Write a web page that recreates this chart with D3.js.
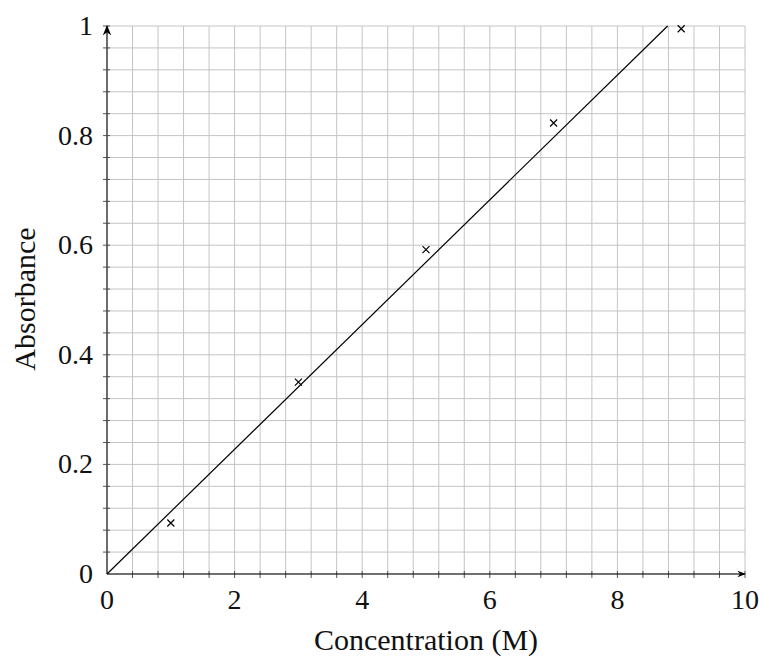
<!DOCTYPE html>
<html>
<head>
<meta charset="utf-8">
<script src="https://cdn.jsdelivr.net/npm/d3@7"></script>
<style>
  body { margin: 0; background: #fff; }
  text { font-family: "Liberation Serif", "DejaVu Serif", serif; fill: #111; }
</style>
</head>
<body>
<script>
// measured points
const concentration = [1, 3, 5, 7, 9]
const absorbance = [0.093, 0.35, 0.592, 0.823, 0.995]
const xTicks = [0, 2, 4, 6, 8, 10]
const yTicks = [0, 0.2, 0.4, 0.6, 0.8, 1]
const fitSlope = 0.1138

const width = 763, height = 659
const x = d3.scaleLinear().domain([0, 10]).range([107, 745])
const y = d3.scaleLinear().domain([0, 1]).range([574, 26])

const svg = d3.select('body').append('svg')
    .attr('width', width)
    .attr('height', height)

svg.append('defs').append('marker')
    .attr('id', 'arrow')
    .attr('viewBox', '0 0 10 10')
    .attr('refX', 9).attr('refY', 5)
    .attr('markerWidth', 7).attr('markerHeight', 7)
    .attr('orient', 'auto')
    .append('path')
    .attr('d', 'M0,1 L10,5 L0,9 L3,5 Z')
    .attr('fill', '#000')

// grid: every 0.4 on x, every 0.04 on y
const xGrid = d3.range(0, 10.001, 0.4)
const yGrid = d3.range(0, 1.0001, 0.04)

svg.append('g').selectAll('line')
    .data(xGrid)
    .enter().append('line')
    .attr('x1', d => x(d)).attr('x2', d => x(d))
    .attr('y1', y(0)).attr('y2', y(1))
    .attr('stroke', '#c4c4c4').attr('stroke-width', 1)

svg.append('g').selectAll('line')
    .data(yGrid)
    .enter().append('line')
    .attr('y1', d => y(d)).attr('y2', d => y(d))
    .attr('x1', x(0)).attr('x2', x(10))
    .attr('stroke', '#c4c4c4').attr('stroke-width', 1)

// small ticks on the axes
svg.append('g').selectAll('line')
    .data(xGrid.slice(1))
    .enter().append('line')
    .attr('x1', d => x(d)).attr('x2', d => x(d))
    .attr('y1', y(0) - 3).attr('y2', y(0) + 4)
    .attr('stroke', '#555').attr('stroke-width', 1)

svg.append('g').selectAll('line')
    .data(yGrid.slice(1))
    .enter().append('line')
    .attr('y1', d => y(d)).attr('y2', d => y(d))
    .attr('x1', x(0) - 4).attr('x2', x(0) + 3)
    .attr('stroke', '#555').attr('stroke-width', 1)

// axes with arrows
svg.append('line')
    .attr('x1', x(0)).attr('x2', x(10))
    .attr('y1', y(0)).attr('y2', y(0))
    .attr('stroke', '#000').attr('stroke-width', 1.2)
    .attr('marker-end', 'url(#arrow)')

svg.append('line')
    .attr('x1', x(0)).attr('x2', x(0))
    .attr('y1', y(0)).attr('y2', y(1))
    .attr('stroke', '#444').attr('stroke-width', 1.5)
    .attr('marker-end', 'url(#arrow)')

// tick labels
svg.append('g').selectAll('text')
    .data(xTicks)
    .enter().append('text')
    .attr('x', d => x(d))
    .attr('y', y(0) + 35)
    .attr('text-anchor', 'middle')
    .attr('font-size', 28)
    .text(d => d)

svg.append('g').selectAll('text')
    .data(yTicks)
    .enter().append('text')
    .attr('x', x(0) - 14)
    .attr('y', d => y(d) + 9)
    .attr('text-anchor', 'end')
    .attr('font-size', 28)
    .text(d => d)

// axis titles
svg.append('text')
    .attr('x', (x(0) + x(10)) / 2)
    .attr('y', 650)
    .attr('text-anchor', 'middle')
    .attr('font-size', 30)
    .text('Concentration (M)')

svg.append('text')
    .attr('transform', `translate(35,${(y(0) + y(1)) / 2 - 1}) rotate(-90)`)
    .attr('text-anchor', 'middle')
    .attr('font-size', 30)
    .text('Absorbance')

// fitted line, clipped at y = 1
const xEnd = Math.min(10, 1 / fitSlope)
svg.append('line')
    .attr('x1', x(0)).attr('y1', y(0))
    .attr('x2', x(xEnd)).attr('y2', y(fitSlope * xEnd))
    .attr('stroke', '#000').attr('stroke-width', 1.2)

// data markers (x shapes)
const s = 3.5
svg.append('g').selectAll('path')
    .data(concentration)
    .enter().append('path')
    .attr('d', (d, i) => {
        const cx = x(d), cy = y(absorbance[i])
        return `M${cx - s},${cy - s}L${cx + s},${cy + s}M${cx - s},${cy + s}L${cx + s},${cy - s}`
    })
    .attr('stroke', '#000').attr('stroke-width', 1.2)
    .attr('fill', 'none')
</script>
</body>
</html>
